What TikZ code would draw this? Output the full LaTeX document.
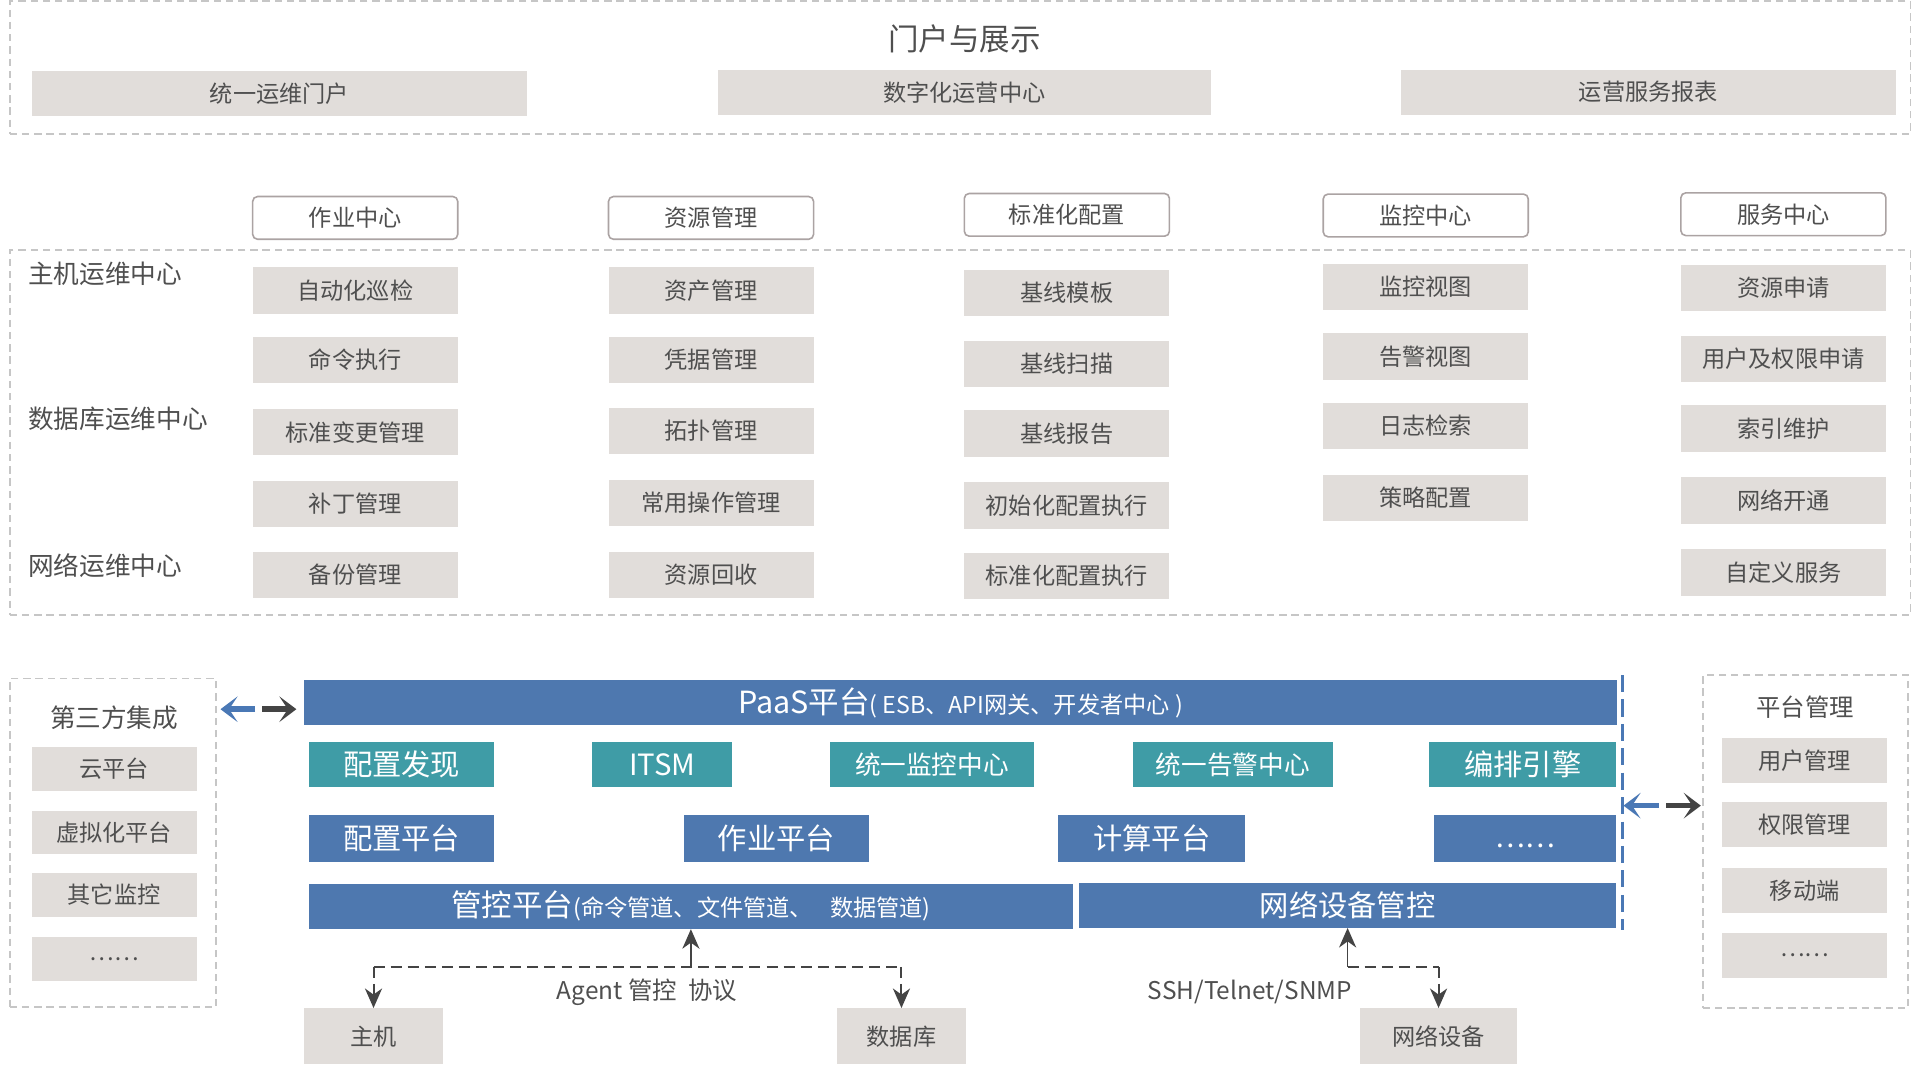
\documentclass[tikz,border=0pt]{standalone}
\usepackage{fontspec}
\setmainfont{Noto Sans CJK SC}
\usetikzlibrary{arrows.meta,calc}
\definecolor{boxgray}{HTML}{E1DDDA}
\definecolor{txtgray}{HTML}{4F4F4F}
\definecolor{dashgray}{HTML}{C6C6C6}
\definecolor{hdrborder}{HTML}{ABA3A3}
\definecolor{pblue}{HTML}{4E78AF}
\definecolor{pteal}{HTML}{3F9CA6}
\definecolor{arrdark}{HTML}{444444}
\definecolor{arrblue}{HTML}{4A78B5}
\newcommand{\fs}[1]{\fontsize{#1}{#1}\selectfont}
\tikzset{
  gbox/.style={fill=boxgray, text=txtgray, inner sep=0pt, minimum width=168, minimum height=38, font=\fs{19}},
  hdr/.style={draw=hdrborder, line width=1.3pt, rounded corners=4pt, fill=white, text=txtgray, inner sep=0pt, minimum width=168, minimum height=35, font=\fs{19}},
  dbox/.style={draw=dashgray, line width=1.3pt, dash pattern=on 6pt off 4pt, inner sep=0pt},
  bluebox/.style={fill=pblue, text=white, inner sep=0pt, minimum height=37, font=\fs{24}},
  tealbox/.style={fill=pteal, text=white, inner sep=0pt, minimum height=37, font=\fs{24}},
  lbl/.style={text=txtgray, inner sep=0pt, font=\fs{20}},
  fatarrow/.style={line width=4.5pt, -{Stealth[length=14pt,width=21pt,inset=7pt]}},
  conn/.style={draw=arrdark, line width=1.6pt},
  tip/.style={-{Stealth[length=16pt,width=14pt,inset=5pt]}}
}
\begin{document}
\begin{tikzpicture}[x=1pt,y=-1pt]
\useasboundingbox[fill=white] (0,0) rectangle (1568,874);

% ---------- top: portal ----------
\node[dbox, minimum width=1557, minimum height=109] (topbox) at (786.5,55.5) {};
\node[lbl, font=\fs{25}] (toptitle) at (790,32) {门户与展示};
\node[gbox, minimum width=406, minimum height=37] (p1) at (229,76.5) {统一运维门户};
\node[gbox, minimum width=404, minimum height=37] (p2) at (790,75.5) {数字化运营中心};
\node[gbox, minimum width=405, minimum height=37] (p3) at (1350.5,75.5) {运营服务报表};

% ---------- middle ----------
\node[dbox, minimum width=1557, minimum height=299] (midbox) at (786.5,354.5) {};
\node[hdr] (h1) at (291,178.5) {作业中心};
\node[hdr] (h2) at (582.5,178.5) {资源管理};
\node[hdr] (h3) at (874,176) {标准化配置};
\node[hdr] (h4) at (1168,176.5) {监控中心};
\node[hdr] (h5) at (1461,175.5) {服务中心};

\node[lbl, anchor=west, font=\fs{21}] (l1) at (23,224) {主机运维中心};
\node[lbl, anchor=west, font=\fs{21}] (l2) at (23,343) {数据库运维中心};
\node[lbl, anchor=west, font=\fs{21}] (l3) at (23,463) {网络运维中心};

\node[gbox] (a1) at (291,238) {自动化巡检};
\node[gbox] (a2) at (291,295) {命令执行};
\node[gbox] (a3) at (291,354) {标准变更管理};
\node[gbox] (a4) at (291,413) {补丁管理};
\node[gbox] (a5) at (291,471) {备份管理};

\node[gbox] (b1) at (582.5,238) {资产管理};
\node[gbox] (b2) at (582.5,295) {凭据管理};
\node[gbox] (b3) at (582.5,353) {拓扑管理};
\node[gbox] (b4) at (582.5,412) {常用操作管理};
\node[gbox] (b5) at (582.5,471) {资源回收};

\node[gbox] (c1) at (874,240) {基线模板};
\node[gbox] (c2) at (874,298) {基线扫描};
\node[gbox] (c3) at (874,355) {基线报告};
\node[gbox] (c4) at (874,414) {初始化配置执行};
\node[gbox] (c5) at (874,472) {标准化配置执行};

\node[gbox] (d1) at (1168,235) {监控视图};
\node[gbox] (d2) at (1168,292) {告警视图};
\node[gbox] (d3) at (1168,349) {日志检索};
\node[gbox] (d4) at (1168,408) {策略配置};

\node[gbox] (e1) at (1461,236) {资源申请};
\node[gbox] (e2) at (1461,294) {用户及权限申请};
\node[gbox] (e3) at (1461,351) {索引维护};
\node[gbox] (e4) at (1461,410) {网络开通};
\node[gbox] (e5) at (1461,469) {自定义服务};

% ---------- bottom left: third party ----------
\node[dbox, minimum width=169, minimum height=269] (tpbox) at (92.5,690.5) {};
\node[lbl, font=\fs{21}] (tptitle) at (93.5,588) {第三方集成};
\node[gbox, minimum width=135, minimum height=36] (t1) at (93.5,630) {云平台};
\node[gbox, minimum width=135, minimum height=36] (t2) at (93.5,682) {虚拟化平台};
\node[gbox, minimum width=135, minimum height=36] (t3) at (93.5,733) {其它监控};
\node[gbox, minimum width=135, minimum height=36] (t4) at (93.5,786) {……};

% ---------- bottom right: platform management ----------
\node[dbox, minimum width=168, minimum height=273] (pmbox) at (1479,689.5) {};
\node[lbl] (pmtitle) at (1479,579) {平台管理};
\node[gbox, minimum width=135, minimum height=37] (m1) at (1478.5,623) {用户管理};
\node[gbox, minimum width=135, minimum height=37] (m2) at (1478.5,675.5) {权限管理};
\node[gbox, minimum width=135, minimum height=37] (m3) at (1478.5,729.5) {移动端};
\node[gbox, minimum width=135, minimum height=37] (m4) at (1478.5,782.5) {……};

% ---------- core platform ----------
\node[bluebox, minimum width=1076, font=\fs{25}] (paas) at (787,575.5) {PaaS平台{\fs{19}( ESB、API网关、开发者中心 )}};

\node[tealbox, minimum width=152] (t_cfg) at (329,626.5) {配置发现};
\node[tealbox, minimum width=115] (t_itsm) at (542.5,626.5) {ITSM};
\node[tealbox, minimum width=167, font=\fs{21}] (t_mon) at (763.5,626.5) {统一监控中心};
\node[tealbox, minimum width=164, font=\fs{21}] (t_alm) at (1010,626.5) {统一告警中心};
\node[tealbox, minimum width=153] (t_orc) at (1247.5,626.5) {编排引擎};

\node[bluebox, minimum width=152, minimum height=38] (bl1) at (329,687) {配置平台};
\node[bluebox, minimum width=152, minimum height=38] (bl2) at (636,687) {作业平台};
\node[bluebox, minimum width=153, minimum height=38] (bl3) at (943.5,687) {计算平台};
\node[bluebox, minimum width=149, minimum height=38, text depth=0pt] (bl4) at (1249.5,687) {\raisebox{-7pt}{\fs{23}……}};

\node[bluebox, minimum width=626, font=\fs{25}] (mgmt) at (566,742.5) {管控平台{\fs{19}(命令管道、文件管道、\hspace{14pt}数据管道)}};
\node[bluebox, minimum width=440] (netm) at (1104,741.5) {网络设备管控};

% blue dashed separator
\draw[arrblue, line width=2pt, dash pattern=on 14pt off 6pt] (1329,553) -- (1329,762);

% ---------- devices ----------
\node[gbox, minimum width=114, minimum height=46] (host) at (306,849) {主机};
\node[gbox, minimum width=105, minimum height=46] (db) at (738.5,849) {数据库};
\node[gbox, minimum width=129, minimum height=46] (netdev) at (1178.5,849) {网络设备};

% ---------- side arrows ----------
\coordinate (la) at (195,581);
\draw[fatarrow, arrblue] ($(la)+(14,0)$) -- ($(tpbox.east |- la)+(3,0)$);
\draw[fatarrow, arrdark] ($(la)+(20,0)$) -- ($(paas.west |- la)+(-6,0)$);
\coordinate (ra) at (1361,660);
\draw[fatarrow, arrblue] ($(ra)+(-2,0)$) -- (1330,660);
\draw[fatarrow, arrdark] ($(ra)+(4,0)$) -- ($(pmbox.west |- ra)+(-1,0)$);

% ---------- agent connectors ----------
\coordinate (agj) at (566,792);
\draw[conn, dash pattern=on 9pt off 5pt] (agj -| host) -- (agj -| db);
\draw[conn, line width=1.4pt, tip] (agj) -- (agj |- mgmt.south);
\draw[conn, dash pattern=on 9pt off 5pt, tip] (agj -| host) -- (host.north);
\draw[conn, dash pattern=on 9pt off 5pt, tip] (agj -| db) -- (db.north);
\node[lbl, font=\fs{20}] (aglbl) at (530,813) {Agent 管控\ \ 协议};

\coordinate (nj) at (1104,792);
\draw[conn, dash pattern=on 9pt off 5pt] (nj) -- (nj -| netdev);
\draw[conn, line width=1.4pt, tip] (nj) -- (nj |- netm.south);
\draw[conn, dash pattern=on 9pt off 5pt, tip] (nj -| netdev) -- (netdev.north);
\node[lbl, font=\fs{20}] (netlbl) at (1024,813) {SSH/Telnet/SNMP};
\end{tikzpicture}
\end{document}
